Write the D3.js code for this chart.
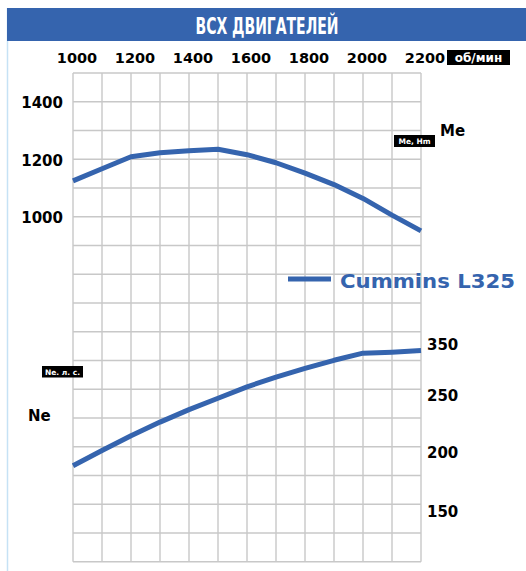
<!DOCTYPE html>
<html>
<head>
<meta charset="utf-8">
<script src="https://cdn.jsdelivr.net/npm/d3@7"></script>
<style>
  body { margin: 0; background: #fff; }
  text { font-family: "DejaVu Sans", sans-serif; font-weight: bold; }
</style>
</head>
<body>
<script>
  // engine speed, rpm
  var rpm = [1000, 1100, 1200, 1300, 1400, 1500, 1600, 1700, 1800, 1900, 2000, 2100, 2200];
  // torque Me, N*m
  var torque = [1125, 1167, 1209, 1223, 1230, 1235, 1216, 1188, 1152, 1112, 1064, 1006, 951];
  // power Ne, hp
  var power = [189, 202, 215, 227, 238, 248, 268, 287, 304, 320, 334, 336, 339];

  var rpmTicks = [1000, 1200, 1400, 1600, 1800, 2000, 2200];
  var torqueTicks = [1000, 1200, 1400];
  var powerTicks = [150, 200, 250, 350];

  var title = "ВСХ ДВИГАТЕЛЕЙ";
  var seriesName = "Cummins L325";

  var width = 526,
      height = 571,
      blue = "#3564ae";

  var svg = d3.select("body").append("svg")
      .attr("width", width)
      .attr("height", height);

  var x = d3.scaleLinear().domain([1000, 2200]).range([73, 421]);
  var yMe = d3.scaleLinear().domain([1000, 1400]).range([216.8, 101.8]);
  // the power axis in the picture is not evenly spaced
  var yNe = d3.scaleLinear().domain(powerTicks).range([511.7, 452.7, 396, 345]);

  // border + header
  svg.append("line")
      .attr("x1", 7.5).attr("x2", 7.5)
      .attr("y1", 8).attr("y2", height)
      .attr("stroke", "#c6e2f5")
      .attr("stroke-width", 1.5);
  svg.append("rect")
      .attr("x", 7).attr("y", 8)
      .attr("width", width - 7).attr("height", 33)
      .attr("fill", blue);
  svg.append("text")
      .attr("x", 267).attr("y", 33.5)
      .attr("text-anchor", "middle")
      .attr("font-size", "23px")
      .attr("fill", "#fff")
      .attr("textLength", 143)
      .attr("lengthAdjust", "spacingAndGlyphs")
      .text(title);

  // grid
  var grid = svg.append("g");
  grid.selectAll("line.v")
    .data(d3.range(1000, 2201, 100))
    .enter().append("line")
      .attr("x1", function(d) { return x(d); })
      .attr("x2", function(d) { return x(d); })
      .attr("y1", yMe(1500))
      .attr("y2", yMe(-200))
      .attr("stroke", "#c8c8c8")
      .attr("stroke-width", 1.4);
  grid.selectAll("line.h")
    .data(d3.range(-200, 1501, 100))
    .enter().append("line")
      .attr("x1", x(1000))
      .attr("x2", x(2200))
      .attr("y1", function(d) { return yMe(d); })
      .attr("y2", function(d) { return yMe(d); })
      .attr("stroke", "#c8c8c8")
      .attr("stroke-width", 1.4);

  // rpm labels on top
  svg.append("g")
    .selectAll("text")
    .data(rpmTicks)
    .enter().append("text")
      .attr("x", function(d) { return x(d) + 4; })
      .attr("y", 58)
      .attr("dy", "0.36em")
      .attr("text-anchor", "middle")
      .attr("font-size", "14.5px")
      .text(function(d) { return d; });

  svg.append("rect")
      .attr("x", 447).attr("y", 50)
      .attr("width", 63).attr("height", 15)
      .attr("fill", "#000");
  svg.append("text")
      .attr("x", 478.5).attr("y", 57.5)
      .attr("dy", "0.36em")
      .attr("text-anchor", "middle")
      .attr("font-size", "12px")
      .attr("fill", "#fff")
      .text("об/мин");

  // torque labels left
  svg.append("g")
    .selectAll("text")
    .data(torqueTicks)
    .enter().append("text")
      .attr("x", 63)
      .attr("y", function(d) { return yMe(d) + 1; })
      .attr("dy", "0.36em")
      .attr("text-anchor", "end")
      .attr("font-size", "15px")
      .text(function(d) { return d; });

  // power labels right
  svg.append("g")
    .selectAll("text")
    .data(powerTicks)
    .enter().append("text")
      .attr("x", 427)
      .attr("y", function(d) { return yNe(d); })
      .attr("dy", "0.36em")
      .attr("text-anchor", "start")
      .attr("font-size", "15px")
      .text(function(d) { return d; });

  // axis names
  svg.append("text")
      .attr("x", 440).attr("y", 131)
      .attr("dy", "0.36em")
      .attr("font-size", "15px")
      .text("Me");
  svg.append("rect")
      .attr("x", 394).attr("y", 135)
      .attr("width", 41).attr("height", 12)
      .attr("fill", "#000");
  svg.append("text")
      .attr("x", 414.5).attr("y", 141)
      .attr("dy", "0.36em")
      .attr("text-anchor", "middle")
      .attr("font-size", "7.5px")
      .attr("fill", "#fff")
      .text("Me, Hm");

  svg.append("rect")
      .attr("x", 42).attr("y", 366)
      .attr("width", 41).attr("height", 11.5)
      .attr("fill", "#000");
  svg.append("text")
      .attr("x", 62.5).attr("y", 371.8)
      .attr("dy", "0.36em")
      .attr("text-anchor", "middle")
      .attr("font-size", "7.5px")
      .attr("fill", "#fff")
      .text("Ne. л. с.");
  svg.append("text")
      .attr("x", 28).attr("y", 416)
      .attr("dy", "0.36em")
      .attr("font-size", "15px")
      .text("Ne");

  // curves
  var meLine = d3.line()
      .x(function(d, i) { return x(rpm[i]); })
      .y(function(d) { return yMe(d); });
  var neLine = d3.line()
      .x(function(d, i) { return x(rpm[i]); })
      .y(function(d) { return yNe(d); });

  svg.append("path")
      .attr("d", meLine(torque))
      .attr("fill", "none")
      .attr("stroke", blue)
      .attr("stroke-width", 5)
      .attr("stroke-linejoin", "round");
  svg.append("path")
      .attr("d", neLine(power))
      .attr("fill", "none")
      .attr("stroke", blue)
      .attr("stroke-width", 5)
      .attr("stroke-linejoin", "round");

  // legend
  svg.append("line")
      .attr("x1", 288).attr("x2", 331)
      .attr("y1", 279).attr("y2", 279)
      .attr("stroke", blue)
      .attr("stroke-width", 5);
  svg.append("text")
      .attr("x", 340).attr("y", 281)
      .attr("dy", "0.36em")
      .attr("font-size", "20px")
      .attr("fill", blue)
      .attr("textLength", 175)
      .attr("lengthAdjust", "spacingAndGlyphs")
      .text(seriesName);
</script>
</body>
</html>
